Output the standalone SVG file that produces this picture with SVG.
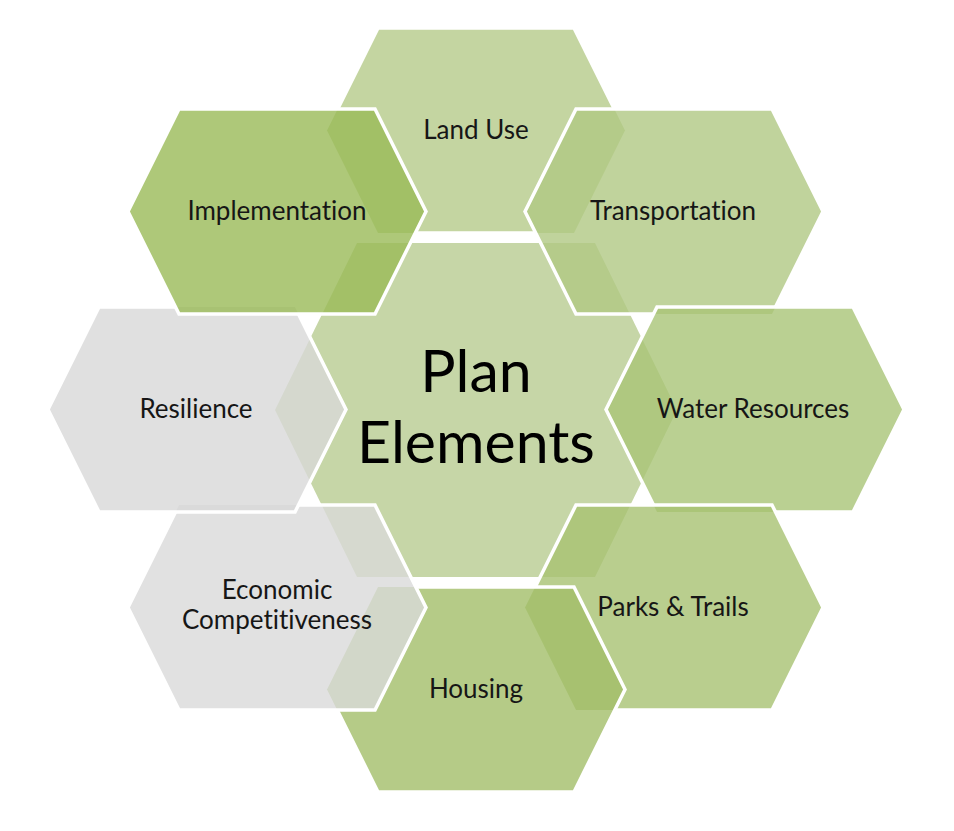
<svg xmlns="http://www.w3.org/2000/svg" xmlns:xlink="http://www.w3.org/1999/xlink" width="954" height="831" viewBox="0 0 954 831">
  <style>
    .edge { fill: none; stroke: #ffffff; stroke-width: 3.5; stroke-linejoin: miter; }
    .lbl { font-family: Lato, "Open Sans", "Liberation Sans", sans-serif; font-size: 26px; fill: #161616; text-anchor: middle; font-variant-ligatures: none; font-feature-settings: "liga" 0, "clig" 0; }
    .big { font-family: Lato, "Open Sans", "Liberation Sans", sans-serif; font-size: 59px; fill: #000000; text-anchor: middle; font-variant-ligatures: none; }
  </style>
  <defs>
    <polygon id="p-center" points="275,410 357,243 595,243 677,410 595,577 357,577"/>
    <polygon id="p-land" points="327,130.5 378,28 574,28 625,130.5 574,233 378,233"/>
    <polygon id="p-trans" points="525,211.5 576,109 772,109 823,211.5 772,314 576,314"/>
    <polygon id="p-water" points="606,409.5 657,307 853,307 904,409.5 853,512 657,512"/>
    <polygon id="p-parks" points="525,607.5 576,505 772,505 823,607.5 772,710 576,710"/>
    <polygon id="p-housing" points="327,689.5 378,587 574,587 625,689.5 574,792 378,792"/>
    <polygon id="p-econ" points="128,607.5 179,505 375,505 426,607.5 375,710 179,710"/>
    <polygon id="p-res" points="48,409.5 99,307 295,307 346,409.5 295,512 99,512"/>
    <polygon id="p-impl" points="128,211.5 179,109 375,109 426,211.5 375,314 179,314"/>
    <mask id="m-land" maskUnits="userSpaceOnUse" x="0" y="0" width="954" height="831">
      <rect width="954" height="831" fill="#fff"/>
      <use xlink:href="#p-impl" fill="#000"/>
      <use xlink:href="#p-trans" fill="#000"/>
    </mask>
    <mask id="m-trans" maskUnits="userSpaceOnUse" x="0" y="0" width="954" height="831">
      <rect width="954" height="831" fill="#fff"/>
      <use xlink:href="#p-water" fill="#000"/>
    </mask>
    <mask id="m-water" maskUnits="userSpaceOnUse" x="0" y="0" width="954" height="831">
      <rect width="954" height="831" fill="#fff"/>
      <use xlink:href="#p-parks" fill="#000"/>
    </mask>
    <mask id="m-parks" maskUnits="userSpaceOnUse" x="0" y="0" width="954" height="831">
      <rect width="954" height="831" fill="#fff"/>
      <use xlink:href="#p-housing" fill="#000"/>
    </mask>
    <mask id="m-housing" maskUnits="userSpaceOnUse" x="0" y="0" width="954" height="831">
      <rect width="954" height="831" fill="#fff"/>
      <use xlink:href="#p-econ" fill="#000"/>
    </mask>
    <mask id="m-econ" maskUnits="userSpaceOnUse" x="0" y="0" width="954" height="831">
      <rect width="954" height="831" fill="#fff"/>
      <use xlink:href="#p-res" fill="#000"/>
    </mask>
    <mask id="m-res" maskUnits="userSpaceOnUse" x="0" y="0" width="954" height="831">
      <rect width="954" height="831" fill="#fff"/>
      <use xlink:href="#p-impl" fill="#000"/>
    </mask>
  </defs>
  <rect width="954" height="831" fill="#ffffff"/>

  <g id="plan-elements">
    <use xlink:href="#p-center" fill="#c6d6a7"/>
    <text class="big" x="476" y="392">Plan</text>
    <text class="big" x="476" y="463">Elements</text>
  </g>

  <g id="land-use">
    <use xlink:href="#p-land" fill="#b5cb8a" fill-opacity="0.8"/>
    <use xlink:href="#p-land" class="edge" mask="url(#m-land)"/>
    <text class="lbl" x="476" y="139">Land Use</text>
  </g>

  <g id="transportation">
    <use xlink:href="#p-trans" fill="#b0c883" fill-opacity="0.8"/>
    <use xlink:href="#p-trans" class="edge" mask="url(#m-trans)"/>
    <text class="lbl" x="673" y="220">Transportation</text>
  </g>

  <g id="water-resources">
    <use xlink:href="#p-water" fill="#a9c477" fill-opacity="0.8"/>
    <use xlink:href="#p-water" class="edge" mask="url(#m-water)"/>
    <text class="lbl" x="753" y="418">Water Resources</text>
  </g>

  <g id="parks-trails">
    <use xlink:href="#p-parks" fill="#a8c272" fill-opacity="0.8"/>
    <use xlink:href="#p-parks" class="edge" mask="url(#m-parks)"/>
    <text class="lbl" x="673" y="616">Parks &amp; Trails</text>
  </g>

  <g id="housing">
    <use xlink:href="#p-housing" fill="#a3be69" fill-opacity="0.8"/>
    <use xlink:href="#p-housing" class="edge" mask="url(#m-housing)"/>
    <text class="lbl" x="476" y="698">Housing</text>
  </g>

  <g id="economic-competitiveness">
    <use xlink:href="#p-econ" fill="#d9d9d9" fill-opacity="0.8"/>
    <use xlink:href="#p-econ" class="edge" mask="url(#m-econ)"/>
    <text class="lbl" x="277" y="599">Economic</text>
    <text class="lbl" x="277" y="629">Competitiveness</text>
  </g>

  <g id="resilience">
    <use xlink:href="#p-res" fill="#d8d8d8" fill-opacity="0.8"/>
    <use xlink:href="#p-res" class="edge" mask="url(#m-res)"/>
    <text class="lbl" x="196" y="418">Resilience</text>
  </g>

  <g id="implementation">
    <use xlink:href="#p-impl" fill="#9aba58" fill-opacity="0.8"/>
    <use xlink:href="#p-impl" class="edge"/>
    <text class="lbl" x="277" y="220">Implementation</text>
  </g>
</svg>
